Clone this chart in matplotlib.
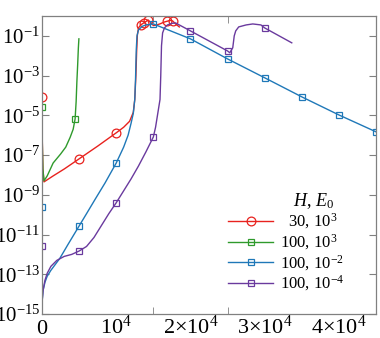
import numpy as np
import matplotlib
matplotlib.use("Agg")
import matplotlib.pyplot as plt

plt.rcParams['font.family'] = ['Liberation Serif', 'DejaVu Serif']
plt.rcParams['mathtext.fontset'] = 'custom'
plt.rcParams['mathtext.rm'] = 'Liberation Serif'
plt.rcParams['mathtext.it'] = 'Liberation Serif:italic'

# ---- data (x, log10 y) ----
red_x = [0, 40, 120, 270, 1500, 3000, 5000, 7500, 10000, 11000, 11800, 12300, 12500,
         12650, 12750, 12850, 13000, 13300, 13700, 14000, 14300, 14700, 15000, 15500,
         16000, 16500, 16800, 17300, 17600, 18000, 18500]
red_log = [-4.07, -6.3, -7.7, -8.35, -8.05, -7.7, -7.19, -6.55, -5.88, -5.6, -5.3, -4.85, -4.2,
           -3.0, -1.8, -0.95, -0.6, -0.45, -0.35, -0.28, -0.2, -0.35, -0.48, -0.45,
           -0.38, -0.3, -0.27, -0.22, -0.25, -0.4, -0.55]
red_marks = [0, 6, 8, 17, 18, 20, 26, 28]

green_x = [0, 40, 120, 270, 700, 1500, 2500, 3200, 3800, 4200, 4460, 4600, 4700, 4800, 4900, 4970]
green_log = [-4.58, -6.4, -7.7, -8.3, -8.05, -7.4, -6.95, -6.6, -6.1, -5.7, -5.18, -4.3, -3.3,
             -2.5, -1.6, -1.15]
green_marks = [0, 10]

blue_x = [0, 30, 150, 400, 700, 1200, 2400, 3500, 5000, 6000, 7200, 8500, 10000, 11000, 11600,
          12000, 12300, 12500, 12600, 12700, 12800, 13000, 13500, 14000, 15000, 16000, 18000,
          20000, 25000, 30000, 35000, 40000, 45000]
blue_log = [-9.6, -14.3, -13.8, -13.4, -13.1, -12.8, -12.2, -11.5, -10.57, -9.95, -9.2, -8.4,
            -7.4, -6.6, -6.0, -5.4, -4.9, -4.2, -3.2, -1.7, -1.0, -0.7, -0.52, -0.45, -0.4,
            -0.55, -0.85, -1.15, -2.16, -3.11, -4.07, -4.98, -5.83]
blue_marks = [0, 8, 12, 24, 27, 28, 29, 30, 31, 32]

purple_x = [0, 30, 150, 400, 700, 1200, 2000, 3000, 4000, 5000, 6000, 7000, 8000, 9000, 10000,
            11000, 12000, 13000, 14000, 15000, 15300, 15600, 15900, 16000, 16100, 16250, 16500,
            16900, 17500, 18000, 18500, 20000, 25000, 25300, 25700, 25900, 26100, 26500, 27500,
            28400, 29500, 30000, 33650]
purple_log = [-11.57, -14.3, -13.8, -13.3, -12.95, -12.6, -12.3, -12.1, -12.0, -11.83, -11.6,
              -11.15, -10.55, -9.95, -9.4, -8.8, -8.2, -7.55, -6.84, -6.09, -5.6, -4.9, -4.2,
              -3.0, -1.5, -0.85, -0.6, -0.45, -0.37, -0.35, -0.45, -0.75, -1.76, -1.85, -1.6,
              -1.0, -0.75, -0.55, -0.45, -0.4, -0.45, -0.6, -1.35]
purple_marks = [0, 9, 14, 19, 31, 32, 41]

labels = ["  30, $\\mathregular{10^{3}}$", "100, $\\mathregular{10^{3}}$",
          "100, $\\mathregular{10^{-2}}$", "100, $\\mathregular{10^{-4}}$"]
colors = ['#e8221e', '#2f9a2c', '#1f78b8', '#6a3a9e']

xticks_lab = [0, 10000, 20000, 30000, 40000]
xtick_lab_text = ['0', '$\\mathregular{10^{4}}$', '$\\mathregular{2{\\times}10^{4}}$',
                  '$\\mathregular{3{\\times}10^{4}}$', '$\\mathregular{4{\\times}10^{4}}$']
xtick_marks = [10000, 15000, 25000, 30000, 40000]
yticks_exp = [-1, -3, -5, -7, -9, -11, -13, -15]

fig = plt.figure(figsize=(3.8, 3.38), dpi=100)
ax = fig.add_axes([42/380, 1-314/338, (376-42)/380, (314-16)/338])

series = [(red_x, red_log, red_marks, 'o', 6.3),
          (green_x, green_log, green_marks, 's', 4.2),
          (blue_x, blue_log, blue_marks, 's', 4.2),
          (purple_x, purple_log, purple_marks, 's', 4.2)]
for (xs, ls, mk, m, ms), c, lab in zip(series, colors, labels):
    ax.plot(xs, np.power(10.0, ls), color=c, lw=1.0, marker=m, markevery=mk,
            ms=ms, mfc='none', mec=c, mew=0.9, label=lab)

ax.set_yscale('log')
ax.set_xlim(0, 45000)
ax.set_ylim(1e-15, 1)

ax.set_yticks([10.0**e for e in yticks_exp])
ax.set_yticklabels(['$\\mathregular{10^{%d}}$' % e for e in yticks_exp])
ax.yaxis.set_minor_locator(matplotlib.ticker.NullLocator())
ax.set_xticks(xticks_lab)
ax.set_xticklabels(xtick_lab_text)
ax.set_xticks(xtick_marks, minor=True)

ax.tick_params(axis='both', which='major', labelsize=16, direction='in', colors='#808080',
               labelcolor='black', top=True, right=True)
ax.tick_params(axis='x', which='major', length=0, pad=14.5)
ax.tick_params(axis='y', which='major', length=5, pad=1.5, labelsize=15)
ax.tick_params(axis='x', which='minor', length=5, direction='in', colors='#808080',
               top=True, bottom=True)
for lab in ax.get_xticklabels():
    lab.set_verticalalignment('baseline')
for s in ax.spines.values():
    s.set_color('#808080')
    s.set_linewidth(0.9)

leg = ax.legend(loc='upper left', bbox_to_anchor=(228/380, 1-191/338),
                bbox_transform=fig.transFigure, frameon=False, fontsize=12,
                title='$H$, $E_0$\u00a0\u00a0\u00a0', title_fontsize=13, alignment='right',
                handlelength=2.7, handletextpad=0.4, labelspacing=0.06,
                borderpad=0, borderaxespad=0)

fig.savefig('out.png', dpi=100)
